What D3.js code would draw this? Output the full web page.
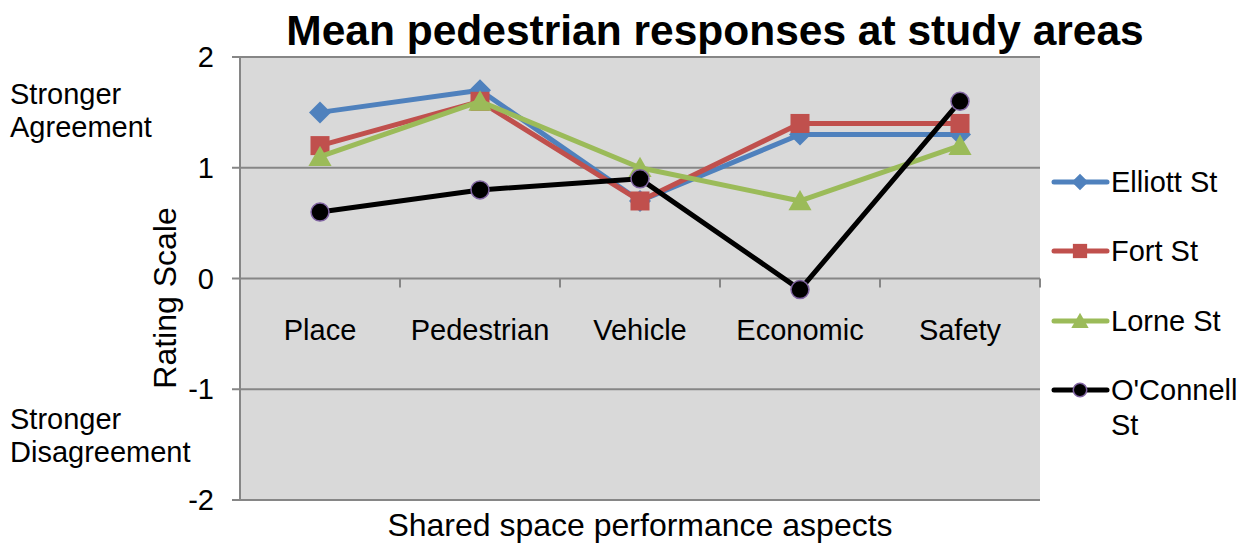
<!DOCTYPE html>
<html><head><meta charset="utf-8">
<script src="https://cdn.jsdelivr.net/npm/d3@7"></script>
<style>body{margin:0;background:#fff}svg{display:block;font-family:"Liberation Sans",Arial,sans-serif}</style>
</head><body><svg id="c" width="1250" height="544"></svg>
<script>
const categories = ["Place","Pedestrian","Vehicle","Economic","Safety"];
const seriesNames = ["Elliott St","Fort St","Lorne St","O'Connell St"];
const elliott = [1.5,1.7,0.7,1.3,1.3];
const fort = [1.2,1.6,0.7,1.4,1.4];
const lorne = [1.1,1.6,1.0,0.7,1.2];
const oconnell = [0.6,0.8,0.9,-0.1,1.6];
const yTicks = [-2,-1,0,1,2];

const series = [
  {name:seriesNames[0], values:elliott, color:"#4F81BD", marker:"diamond"},
  {name:seriesNames[1], values:fort, color:"#C0504D", marker:"square"},
  {name:seriesNames[2], values:lorne, color:"#9BBB59", marker:"triangle"},
  {name:seriesNames[3], values:oconnell, color:"#000000", marker:"circle"}
];

const svg = d3.select("#c");
const L=240, R=1040, T=57, B=500;
const x = d3.scaleBand().domain(categories).range([L,R]);
const y = d3.scaleLinear().domain([-2,2]).range([B,T]);
const FS = 29;

svg.append("rect").attr("x",L).attr("y",T).attr("width",R-L).attr("height",B-T).attr("fill","#D9D9D9");

svg.append("g").selectAll("line").data(yTicks).join("line")
  .attr("x1",L-8).attr("x2",R).attr("y1",d=>y(d)).attr("y2",d=>y(d))
  .attr("stroke","#868686").attr("stroke-width",2);
svg.append("line").attr("x1",L).attr("x2",L).attr("y1",T).attr("y2",B).attr("stroke","#868686").attr("stroke-width",2);
svg.append("g").selectAll("text").data(yTicks).join("text")
  .attr("x",L-26).attr("y",d=>y(d)+10).attr("text-anchor","end").attr("font-size",FS).text(d=>d);

const bounds = categories.map(c=>x(c)+x.bandwidth());
svg.append("g").selectAll("line").data(bounds).join("line")
  .attr("x1",d=>d).attr("x2",d=>d).attr("y1",y(0)).attr("y2",y(0)+9)
  .attr("stroke","#868686").attr("stroke-width",2);
svg.append("g").selectAll("text").data(categories).join("text")
  .attr("x",d=>x(d)+x.bandwidth()/2).attr("y",y(0)+61).attr("text-anchor","middle").attr("font-size",FS).text(d=>d);

const line = d3.line().x((d,i)=>x(categories[i])+x.bandwidth()/2).y(d=>y(d));
function drawMarker(g, type, cx, cy, color, scale){
  scale = scale||1;
  if(type==="diamond"){
    const s=11*scale;
    g.append("path").attr("d",`M${cx},${cy-s}L${cx+s},${cy}L${cx},${cy+s}L${cx-s},${cy}Z`).attr("fill",color);
  } else if(type==="square"){
    const s=9.5*scale;
    g.append("rect").attr("x",cx-s).attr("y",cy-s).attr("width",2*s).attr("height",2*s).attr("fill",color);
  } else if(type==="triangle"){
    const s=11*scale;
    g.append("path").attr("d",`M${cx},${cy-s}L${cx+s*1.05},${cy+s*0.85}L${cx-s*1.05},${cy+s*0.85}Z`).attr("fill",color);
  } else {
    g.append("circle").attr("cx",cx).attr("cy",cy).attr("r",9*scale).attr("fill","#000").attr("stroke","#8064A2").attr("stroke-width",1.5);
  }
}
series.forEach(s=>{
  const g=svg.append("g");
  g.append("path").datum(s.values).attr("d",line).attr("fill","none").attr("stroke",s.color).attr("stroke-width",5).attr("stroke-linejoin","round");
  s.values.forEach((v,i)=>drawMarker(g,s.marker,x(categories[i])+x.bandwidth()/2,y(v),s.color));
});

svg.append("text").attr("x",715).attr("y",45).attr("text-anchor","middle").attr("font-size",42.5).attr("font-weight","bold").text("Mean pedestrian responses at study areas");
svg.append("text").attr("transform","translate(176,298) rotate(-90)").attr("text-anchor","middle").attr("font-size",32).text("Rating Scale");
svg.append("text").attr("x",640).attr("y",536).attr("text-anchor","middle").attr("font-size",32).text("Shared space performance aspects");
const ann = svg.append("g").attr("font-size",FS);
ann.append("text").attr("x",10).attr("y",104).text("Stronger");
ann.append("text").attr("x",10).attr("y",137).text("Agreement");
ann.append("text").attr("x",10).attr("y",429).text("Stronger");
ann.append("text").attr("x",10).attr("y",462).text("Disagreement");

const legY = [182,251,321,390];
series.forEach((s,i)=>{
  const g=svg.append("g");
  const ly=legY[i];
  g.append("line").attr("x1",1054).attr("x2",1107).attr("y1",ly).attr("y2",ly).attr("stroke",s.color).attr("stroke-width",5).attr("stroke-linecap","round");
  drawMarker(g,s.marker,1080,ly,s.color,0.75);
  if(i<3){
    g.append("text").attr("x",1111).attr("y",ly+10).attr("font-size",FS).text(s.name);
  } else {
    const parts = s.name.split(" ");
    g.append("text").attr("x",1111).attr("y",ly+10).attr("font-size",FS).text(parts[0]);
    g.append("text").attr("x",1111).attr("y",ly+45).attr("font-size",FS).text(parts[1]);
  }
});
</script></body></html>
